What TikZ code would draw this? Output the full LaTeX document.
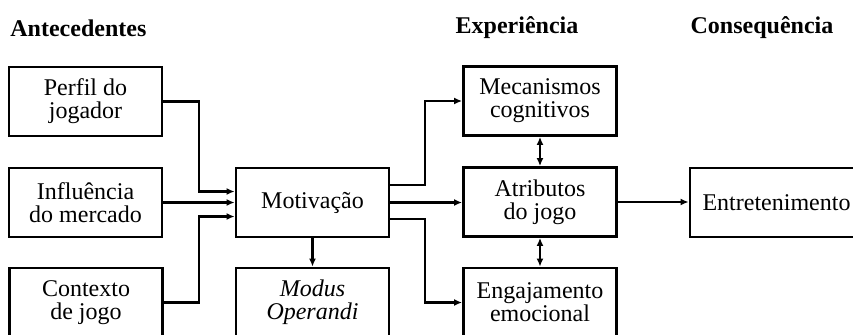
\documentclass[tikz,border=0pt]{standalone}
\usepackage{fontspec}
\setmainfont{Liberation Serif}
\usetikzlibrary{arrows.meta}
\tikzset{
  box/.style={draw, line width=1.4pt, minimum width=76.5pt, minimum height=34.5pt, align=center, inner sep=1pt, font=\fontsize{12}{11.5}\selectfont},
  arr/.style={-{Latex[length=4pt,width=3.5pt]}, line width=1.1pt},
  darr/.style={{Latex[length=4pt,width=3.5pt]}-{Latex[length=4pt,width=3.5pt]}, line width=1.1pt},
  title/.style={font=\fontsize{12}{14}\selectfont\bfseries, inner sep=0pt}
}
\begin{document}
\begin{tikzpicture}[x=0.5pt, y=-0.5pt]
      \useasboundingbox (0,0) rectangle (853,334);
      % Titles
      \node[title, anchor=west] (tant) at (10,28) {Antecedentes};
      \node[title] (texp) at (517,28) {Experiência};
      \node[title] (tcon) at (762,28) {Consequência};
      % Antecedents
      \node[box] (perfil) at (85.5,101.5) {Perfil do\\jogador};
      \node[box] (influ) at (85.5,202.5) {Influência\\do mercado};
      \node[box] (contexto) at (86,302.5) {Contexto\\de jogo};
      \node[box] (mot) at (312.5,202.5) {Motivação};
      \node[box] (modus) at (312.5,302.5) {\itshape Modus\\\itshape Operandi};
      % Experience
      \node[box] (mec) at (540,101) {Mecanismos\\cognitivos};
      \node[box] (atrib) at (540,202) {Atributos\\do jogo};
      \node[box] (engaj) at (540,302.5) {Engajamento\\emocional};
      % Consequence
      \node[box, minimum width=86.5pt] (entret) at (776.5,202.5) {Entretenimento};
      % Bend columns
      \coordinate (jl) at (199,0);
      \coordinate (jr) at (425,0);
      \coordinate (min1) at ([yshift=5.5pt]mot.west);
      \coordinate (min3) at ([yshift=-7pt]mot.west);
      \coordinate (mout1) at ([yshift=8.75pt]mot.east);
      \coordinate (mout3) at ([yshift=-8.25pt]mot.east);
      % Inputs
      \draw[arr] (perfil.east) -| (jl |- min1) -- (min1);
      \draw[arr] (influ.east) -- (influ.east -| mot.west);
      \draw[arr] (contexto.east) -| (jl |- min3) -- (min3);
      \draw[arr] (mot.south) -- (modus.north);
      % Outputs
      \draw[arr] (mout1) -| (jr |- mec.west) -- (mec.west);
      \draw[arr] (mot.east) -- (mot.east -| atrib.west);
      \draw[arr] (mout3) -| (jr |- engaj.west) -- (engaj.west);
      \draw[darr] (mec.south) -- (atrib.north);
      \draw[darr] (atrib.south) -- (engaj.north);
      \draw[arr] (atrib.east) -- (atrib.east -| entret.west);
    \end{tikzpicture}
\end{document}
